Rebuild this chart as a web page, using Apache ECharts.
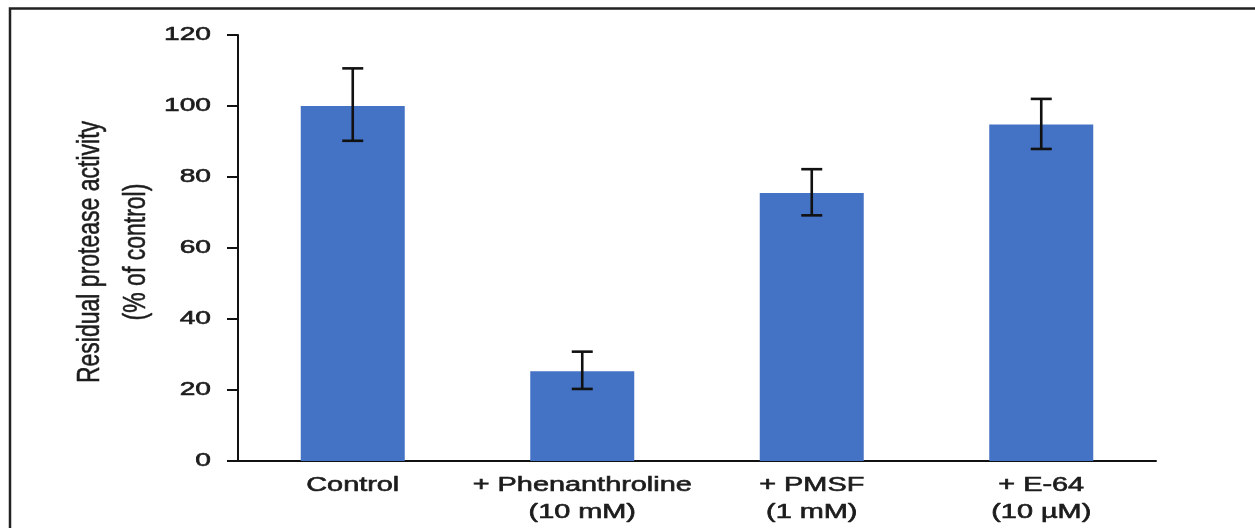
<!DOCTYPE html>
<html>
<head>
<meta charset="utf-8">
<script src="https://cdn.jsdelivr.net/npm/echarts@6/dist/echarts.min.js"></script>
<style>
html,body{margin:0;padding:0;background:#fff;}
#chart{width:1255px;height:528px;}
</style>
</head>
<body>
<div id="chart"></div>
<script>
// ---- data ----
const categories = ['Control', '+ Phenanthroline\n(10 mM)', '+ PMSF\n(1 mM)', '+ E-64\n(10 µM)'];
const activity = [100, 25.3, 75.5, 94.8];
const errLow = [90.2, 20.3, 69.2, 87.9];
const errHigh = [110.6, 30.8, 82.2, 102.0];
const yTicks = [0, 20, 40, 60, 80, 100, 120];
const yTitle1 = 'Residual protease activity';
const yTitle2 = '(% of control)';

const FONT = 'Liberation Sans, Arial, sans-serif';
const TXT = '#1c1c1c';
const STRETCH = 1.48;

const chart = echarts.init(document.getElementById('chart'), null, {renderer: 'canvas'});

const option = {
  backgroundColor: '#ffffff',
  animation: false,
  grid: {left: 238, right: 99, top: 35, bottom: 67, containLabel: false},
  xAxis: {
    type: 'category',
    data: categories,
    axisLine: {show: true, lineStyle: {color: '#111', width: 2}},
    axisTick: {show: false},
    axisLabel: {show: false},
    splitLine: {show: false}
  },
  yAxis: {
    type: 'value',
    min: 0, max: 120, interval: 20,
    axisLine: {show: true, lineStyle: {color: '#111', width: 2}},
    axisTick: {show: true, inside: false, length: 11, lineStyle: {color: '#111', width: 2}},
    axisLabel: {show: false},
    splitLine: {show: false}
  },
  graphic: [
    {type: 'polyline', shape: {points: [[10, 528], [10, 8.5], [1255, 8.5]]},
     style: {stroke: '#222', lineWidth: 2.5, fill: null}, silent: true},
    {type: 'text', x: 90, y: 252, rotation: Math.PI / 2, scaleY: 1.4,
     style: {text: yTitle1, align: 'center', verticalAlign: 'middle', fontSize: 23, fontFamily: FONT, fill: TXT,
             stroke: TXT, lineWidth: 0.4}},
    {type: 'text', x: 136, y: 252, rotation: Math.PI / 2, scaleY: 1.4,
     style: {text: yTitle2, align: 'center', verticalAlign: 'middle', fontSize: 23, fontFamily: FONT, fill: TXT,
             stroke: TXT, lineWidth: 0.4}}
  ],
  series: [
    {
      type: 'bar',
      data: activity,
      barWidth: 104,
      itemStyle: {color: '#4472C4'},
      silent: true
    },
    {
      type: 'custom',
      clip: false,
      silent: true,
      data: categories.map((c, i) => [i, errLow[i], errHigh[i]]),
      encode: {x: 0, y: [1, 2]},
      renderItem: function (params, api) {
        const i = api.value(0);
        const lo = api.coord([i, api.value(1)]);
        const hi = api.coord([i, api.value(2)]);
        const hw = 10.5;
        const st = {stroke: '#111', lineWidth: 2.6, fill: null};
        return {
          type: 'group',
          children: [
            {type: 'line', shape: {x1: lo[0], y1: lo[1], x2: hi[0], y2: hi[1]}, style: st},
            {type: 'line', shape: {x1: lo[0] - hw, y1: lo[1], x2: lo[0] + hw, y2: lo[1]}, style: st},
            {type: 'line', shape: {x1: hi[0] - hw, y1: hi[1], x2: hi[0] + hw, y2: hi[1]}, style: st}
          ]
        };
      },
      z: 5
    },
    {
      // category labels (horizontally stretched like the reference)
      type: 'custom',
      clip: false,
      silent: true,
      data: categories.map((c, i) => [i, 0]),
      encode: {x: 0, y: 1},
      renderItem: function (params, api) {
        const i = api.value(0);
        const p = api.coord([i, 0]);
        const lines = categories[i].split('\n');
        return {
          type: 'group',
          children: lines.map((t, k) => ({
            type: 'text', x: p[0], y: p[1] + 25 + k * 26.5, scaleX: STRETCH,
            style: {text: t, align: 'center', verticalAlign: 'middle', fontSize: 19.5, fontFamily: FONT, fill: TXT,
                    stroke: TXT, lineWidth: 0.6}
          }))
        };
      }
    },
    {
      // y tick labels
      type: 'custom',
      clip: false,
      silent: true,
      data: yTicks.map(v => [0, v]),
      encode: {x: 0, y: 1},
      renderItem: function (params, api) {
        const v = api.value(1);
        const p = api.coord([0, v]);
        return {
          type: 'text', x: params.coordSys.x - 27, y: p[1], scaleX: STRETCH,
          style: {text: String(v), align: 'right', verticalAlign: 'middle', fontSize: 19, fontFamily: FONT, fill: TXT,
                  stroke: TXT, lineWidth: 0.6}
        };
      }
    }
  ]
};

chart.setOption(option);
</script>
</body>
</html>
